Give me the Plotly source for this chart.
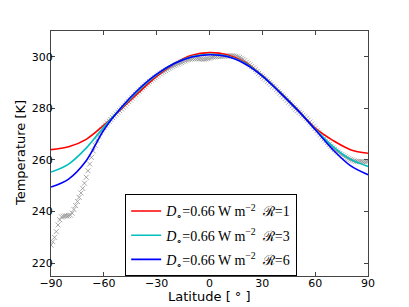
import plotly.graph_objects as go

# ---- data ----
model_lat = [-90, -80, -70, -60, -50, -40, -30, -20, -10, 0, 10, 20, 30, 40, 50, 60, 70, 80, 90]
temp_R1 = [264.0, 265.1, 268.0, 273.5, 279.8, 286.3, 292.4, 297.4, 300.6, 301.6,
           300.8, 297.9, 292.8, 286.4, 279.5, 272.3, 267.6, 264.0, 262.6]
temp_R3 = [255.3, 258.4, 264.6, 272.8, 280.2, 287.2, 293.0, 297.4, 300.1, 301.0,
           300.3, 297.6, 292.7, 286.3, 279.4, 272.0, 265.3, 260.3, 257.5]
temp_R6 = [249.5, 252.6, 259.7, 271.6, 280.4, 287.6, 293.3, 297.4, 299.9, 300.8,
           300.1, 297.3, 292.5, 286.1, 279.3, 271.8, 264.0, 257.8, 254.3]

obs_lat = list(range(-90, 91))
obs_temp = [
    227.0, 228.3, 230.0, 232.2, 234.8, 236.8, 237.9, 238.2, 238.3, 238.3,
    238.4, 238.6, 239.4, 240.8, 242.3, 243.9, 245.5, 247.2, 249.0, 251.0,
    253.3, 255.8, 258.4, 261.0, 263.5, 265.7, 267.7, 269.3, 270.6, 271.7,
    272.6, 273.5, 274.3, 275.0, 275.7, 276.4, 277.1, 277.8, 278.5, 279.1,
    279.8, 280.5, 281.2, 281.9, 282.6, 283.3, 284.0, 284.7, 285.4, 286.0,
    286.7, 287.4, 288.0, 288.6, 289.2, 289.8, 290.4, 290.9, 291.4, 291.9,
    292.4, 292.9, 293.4, 293.9, 294.3, 294.7, 295.1, 295.5, 295.9, 296.3,
    296.6, 296.9, 297.2, 297.5, 297.8, 298.1, 298.4, 298.7, 298.9, 299.1,
    299.2, 299.3, 299.3, 299.3, 299.2, 299.2, 299.1, 299.1, 299.2, 299.3,
    299.5, 299.7, 299.9, 300.0, 300.1, 300.2, 300.2, 300.2, 300.3, 300.3,
    300.3, 300.3, 300.4, 300.4, 300.3, 300.2, 300.0, 299.7, 299.4, 299.0,
    298.5, 297.9, 297.4, 296.9, 296.3, 295.7, 295.0, 294.3, 293.6, 292.9,
    292.3, 291.7, 291.1, 290.5, 289.9, 289.3, 288.6, 288.0, 287.3, 286.6,
    285.9, 285.2, 284.5, 283.8, 283.1, 282.4, 281.7, 281.0, 280.3, 279.7,
    279.1, 278.5, 277.9, 277.3, 276.7, 276.1, 275.4, 274.7, 273.9, 273.1,
    272.2, 271.3, 270.5, 269.7, 268.9, 268.1, 267.4, 266.7, 266.0, 265.3,
    264.7, 264.1, 263.5, 263.0, 262.5, 262.0, 261.6, 261.2, 260.8, 260.5,
    260.2, 259.9, 259.7, 259.5, 259.4, 259.3, 259.3, 259.3, 259.3, 259.4,
    259.5,
]

series_names = [
    "<i>D</i><sub>∘</sub>=0.66 W m<sup>−2</sup>  ℛ=1",
    "<i>D</i><sub>∘</sub>=0.66 W m<sup>−2</sup>  ℛ=3",
    "<i>D</i><sub>∘</sub>=0.66 W m<sup>−2</sup>  ℛ=6",
]
series_colors = ["#ff0000", "#00bfbf", "#0000ff"]

x_ticks = [-90, -60, -30, 0, 30, 60, 90]
x_ticktext = ["−90", "−60", "−30", "0", "30", "60", "90"]
y_ticks = [220, 240, 260, 280, 300]
x_title = "Latitude [ ° ]"
y_title = "Temperature [K]"

fig = go.Figure()
fig.add_trace(go.Scatter(
    x=obs_lat, y=obs_temp, mode="markers",
    marker=dict(symbol="x-thin", size=5, line=dict(width=1, color="rgba(140,140,140,0.75)")),
    showlegend=False, hoverinfo="skip",
))
for name, temps, col in zip(series_names, [temp_R1, temp_R3, temp_R6], series_colors):
    fig.add_trace(go.Scatter(
        x=model_lat, y=temps, mode="lines", name=name, legendgroup=name,
        line=dict(color=col, width=1.6, shape="spline", smoothing=1.0),
    ))

axis_common = dict(
    showline=True, linecolor="#444", linewidth=1, mirror="ticks",
    ticks="inside", ticklen=4, tickcolor="#444", showgrid=False, zeroline=False,
    tickfont=dict(family="DejaVu Sans", size=11, color="black"),
)
title_font = dict(family="DejaVu Sans", size=13, color="black")
# page body has an 8px margin, so the figure is 8px smaller and margins shifted
fig.update_layout(
    width=401, height=299,
    margin=dict(l=43, r=41, t=23, b=31, autoexpand=False),
    paper_bgcolor="white", plot_bgcolor="white",
    xaxis=dict(range=[-90, 90], tickvals=x_ticks, ticktext=x_ticktext,
               ticklabelstandoff=-3, automargin=False, **axis_common),
    yaxis=dict(range=[215, 310], tickvals=y_ticks,
               ticklabelstandoff=-5, automargin=False, **axis_common),
    legend=dict(x=0.234, y=0.333, xanchor="left", yanchor="top",
                bgcolor="white", bordercolor="black", borderwidth=1,
                font=dict(family="Liberation Serif", size=14, color="black"),
                tracegroupgap=3),
    showlegend=True,
    annotations=[
        dict(text=x_title, xref="paper", yref="paper", x=0.5, y=-0.084,
             xanchor="center", yanchor="middle", showarrow=False, font=title_font),
        dict(text=y_title, xref="paper", yref="paper", x=-0.096, y=0.5,
             xanchor="center", yanchor="middle", textangle=-90, showarrow=False, font=title_font),
    ],
)
fig.write_html("out.html")
